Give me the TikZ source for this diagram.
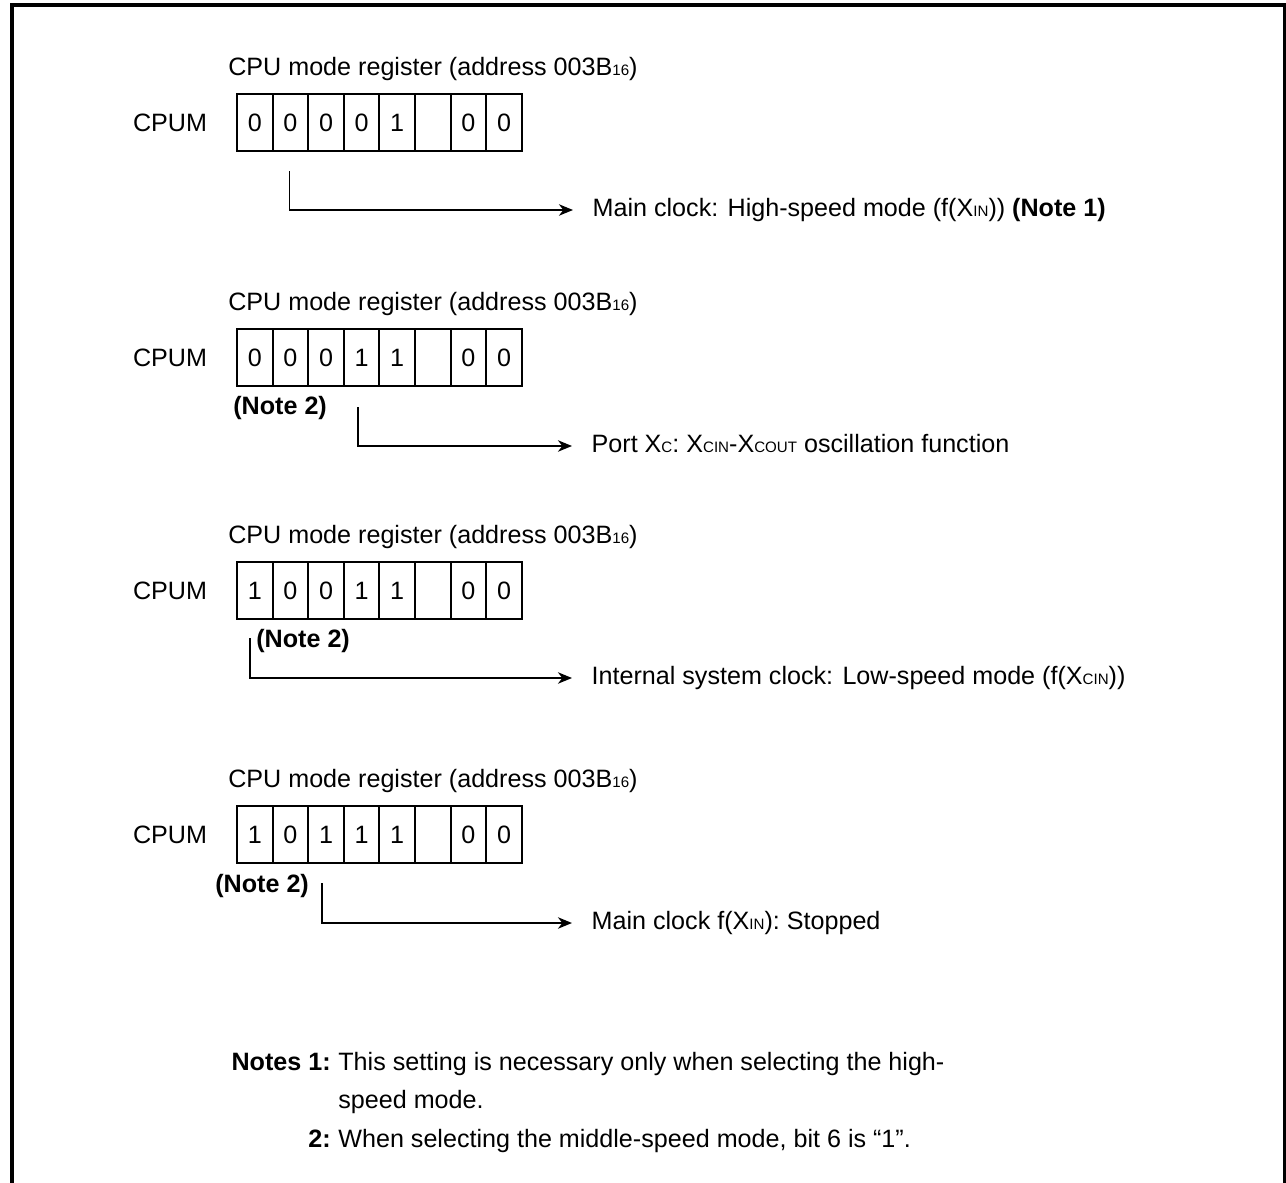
\documentclass[tikz,border=0pt]{standalone}
\usepackage{fontspec}
\setmainfont{Liberation Sans}
\usepackage{tikz}
\usetikzlibrary{arrows.meta}
\newcommand{\smallsub}[1]{{\fontsize{8.6pt}{9pt}\selectfont #1}}
\begin{document}
\begin{tikzpicture}[x=0.02cm,y=-0.02cm,font=\fontsize{14.3pt}{17pt}\selectfont,
  bit/.style={draw,line width=1.1pt,minimum width=0.712cm,minimum height=1.14cm,inner sep=0pt},
  lbl/.style={anchor=base west,inner sep=0pt},
  desc/.style={anchor=west,inner xsep=11pt,inner ysep=0pt,text height=0.72em,text depth=0pt},
  arr/.style={line width=1.1pt,-{Stealth[length=8pt,width=6.5pt,inset=2.5pt]}}]
\useasboundingbox (0,0) rectangle (1286,1183);
\draw[line width=2.4pt] (11.7,1183)--(11.7,4.7)--(1285,4.7)--(1285,1183);

\node[lbl] (ta) at (228,75) {CPU mode register (address 003B\smallsub{16})};
\node (pa) at (170,122.5) {CPUM};
\foreach \v [count=\i] in {0,0,0,0,1,{},0,0}
  \node[bit] (ra\i) at ({237+35.6*(\i-0.5)},122.5) {\v};
\coordinate (ca) at (289.5,171);
\node[desc] (ma) at (573,210) {Main clock: High-speed mode (f(X\smallsub{IN})) \textbf{(Note 1)}};
\draw[arr] (ca) |- (ma);

\node[lbl] (tb) at (228,310) {CPU mode register (address 003B\smallsub{16})};
\node (pb) at (170,357.5) {CPUM};
\foreach \v [count=\i] in {0,0,0,1,1,{},0,0}
  \node[bit] (rb\i) at ({237+35.6*(\i-0.5)},357.5) {\v};
\node[lbl] (nb) at (233,414) {\textbf{(Note 2)}};
\coordinate (cb) at (358,407);
\node[desc] (mb) at (572,446) {Port X\smallsub{C}: X\smallsub{CIN}-X\smallsub{COUT} oscillation function};
\draw[arr] (cb) |- (mb);

\node[lbl] (tc) at (228,543) {CPU mode register (address 003B\smallsub{16})};
\node (pc) at (170,590.5) {CPUM};
\foreach \v [count=\i] in {1,0,0,1,1,{},0,0}
  \node[bit] (rc\i) at ({237+35.6*(\i-0.5)},590.5) {\v};
\node[lbl] (nc) at (256,647) {\textbf{(Note 2)}};
\coordinate (cc) at (250,638);
\node[desc] (mc) at (572,678) {Internal system clock: Low-speed mode (f(X\smallsub{CIN}))};
\draw[arr] (cc) |- (mc);

\node[lbl] (td) at (228,787) {CPU mode register (address 003B\smallsub{16})};
\node (pd) at (170,834.5) {CPUM};
\foreach \v [count=\i] in {1,0,1,1,1,{},0,0}
  \node[bit] (rd\i) at ({237+35.6*(\i-0.5)},834.5) {\v};
\node[lbl] (nd) at (215,892) {\textbf{(Note 2)}};
\coordinate (cd) at (322,883);
\node[desc] (md) at (572,923) {Main clock f(X\smallsub{IN}): Stopped};
\draw[arr] (cd) |- (md);

\node[anchor=base east,inner sep=0pt] (na) at (331,1070) {\textbf{Notes 1:}};
\node[lbl] (la) at (338,1070) {This setting is necessary only when selecting the high-};
\node[lbl] (lb) at (338,1108) {speed mode.};
\node[anchor=base east,inner sep=0pt] (nn) at (331,1147) {\textbf{2:}};
\node[lbl] (lc) at (338,1147) {When selecting the middle-speed mode, bit 6 is “1”.};
\end{tikzpicture}
\end{document}
